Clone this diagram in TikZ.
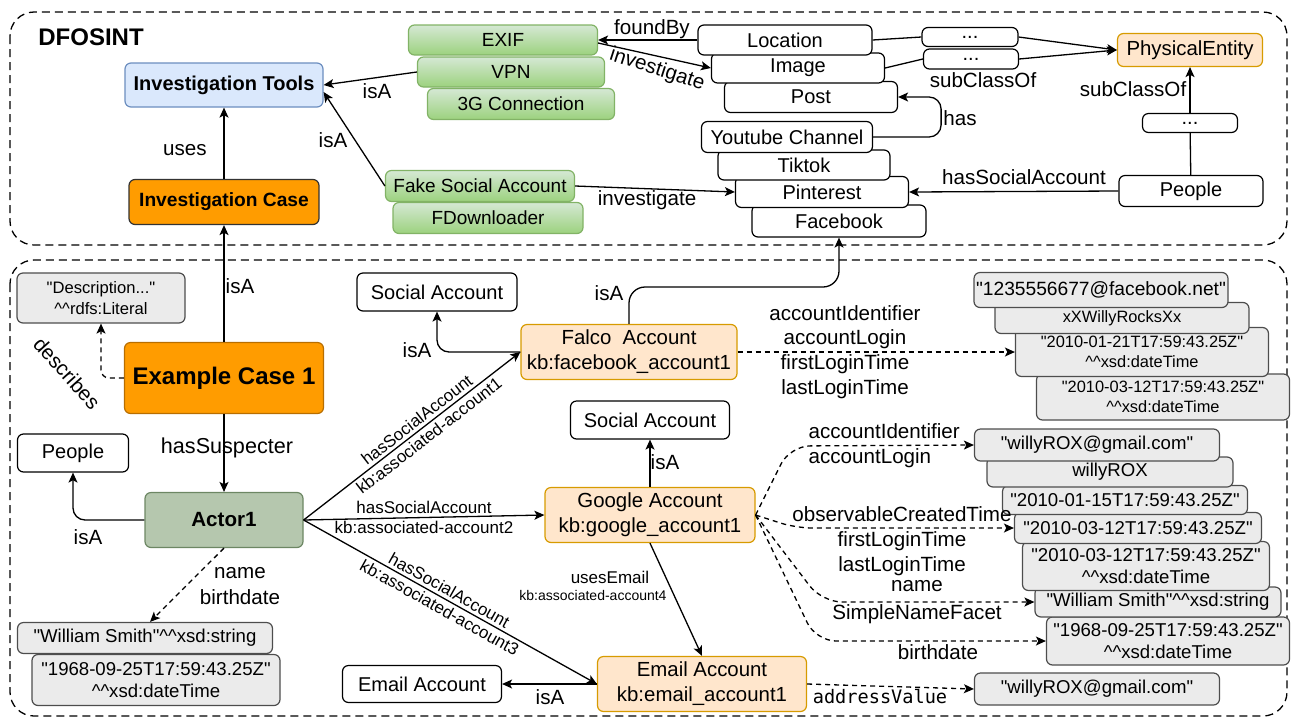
\documentclass[tikz,border=0pt]{standalone}
\usepackage{fontspec}
\setmainfont{Liberation Sans}[Ligatures=TeXOff]
\setmonofont{DejaVu Sans Mono}
\usepackage{tikz}
\usetikzlibrary{arrows.meta}
\definecolor{tooltop}{HTML}{D5E8D4}
\definecolor{toolbot}{HTML}{9CD27E}
\definecolor{toolline}{HTML}{82B366}
\definecolor{bluefill}{HTML}{DAE8FC}
\definecolor{blueline}{HTML}{6C8EBF}
\definecolor{casefill}{HTML}{FF9C00}
\definecolor{caseline}{HTML}{B86E00}
\definecolor{acctfill}{HTML}{FFE6CC}
\definecolor{acctline}{HTML}{D79B00}
\definecolor{litfill}{HTML}{EBEBEB}
\definecolor{litline}{HTML}{4D4D4D}
\definecolor{actorfill}{HTML}{B5C7AE}
\definecolor{actorline}{HTML}{6D8764}
\newcommand{\carets}{\textasciicircum\textasciicircum}
\tikzset{>={Stealth[length=5pt,width=4.5pt,inset=1.2pt]}}
\tikzset{sz/.style 2 args={minimum width=#1*0.5pt,minimum height=#2*0.5pt}}
\tikzset{box/.style={draw,rounded corners=3pt,align=center,inner sep=1pt,line width=0.6pt,font=\fontsize{10}{12}\selectfont}}
\tikzset{plain/.style={box,fill=white}}
\tikzset{tool/.style={box,top color=tooltop,bottom color=toolbot,draw=toolline,font=\fontsize{9.5}{11}\selectfont}}
\tikzset{acct/.style={box,fill=acctfill,draw=acctline,font=\fontsize{10.2}{12.5}\selectfont}}
\tikzset{lit/.style={box,fill=litfill,draw=litline,font=\fontsize{9.3}{10.8}\selectfont}}
\tikzset{litsm/.style={lit,font=\fontsize{8.2}{10.2}\selectfont}}
\tikzset{lbl/.style={inner sep=1pt,align=center,font=\fontsize{10.3}{12.4}\selectfont}}
\tikzset{lblsm/.style={inner sep=1.5pt,font=\fontsize{8.5}{10}\selectfont}}
\tikzset{dashlink/.style={->,dash pattern=on 2.5pt off 2pt}}
\tikzset{region/.style={dash pattern=on 4pt off 2.5pt,rounded corners=12pt}}

\begin{document}
\begin{tikzpicture}[x=0.5pt,y=-0.5pt,line width=0.65pt]
                \useasboundingbox (0,0) rectangle (1291,719);
                \draw[region] (10,12) rectangle (1287,245);
                \draw[region] (10,260) rectangle (1287,716);

                \node[font=\fontsize{12}{14}\selectfont\bfseries] (Dfo) at (91,37) {DFOSINT};
                \node[box,fill=bluefill,draw=blueline,sz={198}{44},font=\fontsize{10}{12}\selectfont\bfseries] (Tools) at (224,85) {Investigation Tools};
                \node[box,fill=casefill,draw=black!80,sz={190}{45},font=\fontsize{9.6}{12}\selectfont\bfseries] (Case) at (224,202) {Investigation Case};

                \node[tool,sz={187}{31}] (Gcon) at (521,104) {3G Connection};
                \node[tool,sz={187}{30}] (Vpn) at (511,72) {VPN};
                \node[tool,sz={189}{30}] (Exif) at (503,40) {EXIF};
                \node[tool,sz={190}{31}] (Fdown) at (488,218) {FDownloader};
                \node[tool,sz={189}{31}] (Fake) at (480,186) {Fake Social Account};

                \node[plain,sz={173}{31}] (Post) at (811,97) {Post};
                \node[plain,sz={173}{30}] (Image) at (798,68) {Image};
                \node[plain,sz={174}{30}] (Location) at (785,40) {Location};
                \node[plain,sz={174}{32}] (Facebook) at (839,221) {Facebook};
                \node[plain,sz={173}{31}] (Pinterest) at (822,192) {Pinterest};
                \node[plain,sz={172}{30}] (Tiktok) at (804,165) {Tiktok};
                \node[plain,sz={171}{31}] (Youtube) at (787,137) {Youtube Channel};

                \node[plain,sz={96}{19}] (DotsA) at (970,37) {...};
                \node[plain,sz={95}{20}] (DotsB) at (971,59) {...};
                \node[plain,sz={95}{19}] (DotsC) at (1190,123) {...};
                \node[acct,sz={145}{33}] (Phys) at (1190,50) {PhysicalEntity};
                \node[plain,sz={144}{31}] (PeopleT) at (1191,191) {People};

                \draw[->] (Case) -- (Tools) node[lbl] at (185,150) {uses};
                \draw[->] (Vpn.west) -- (Tools.east) node[lbl] at (377,91) {isA};
                \draw[->] (Fake.west) -- ([yshift=-3.5pt]Tools.east) node[lbl] at (333,140) {isA};
                \draw[->] (Location.west) -- (Exif.east) node[lbl] at (652,29) {foundBy};
                \draw[->] ([yshift=-1.5pt]Exif.east) -- (Image.west) node[lbl,rotate=-18] at (657,70) {investigate};
                \draw[->] (Fake.east) -- (Pinterest.west) node[lbl] at (647,200) {investigate};
                \draw (Location.east) -- (DotsA.west);
                \draw (Image.east) -- (DotsB.west);
                \draw[->] (DotsA.east) -- (Phys.west);
                \draw[->] (DotsB.east) -- (Phys.west) node[lbl] at (983,80) {subClassOf};
                \draw (PeopleT) -- (DotsC);
                \draw[->] (DotsC) -- (Phys) node[lbl] at (1133,89) {subClassOf};
                \draw[->] (PeopleT.west) -- (Pinterest.east) node[lbl] at (1024,177) {hasSocialAccount};
                \draw[->,rounded corners=6pt] (Youtube.east) -| ([xshift=21.5pt]Post.east) -- (Post.east) node[lbl] at (960,118) {has};

                \node[lit,font=\fontsize{8.3}{10.3}\selectfont,sz={168}{50}] (Desc) at (101,298) {"Description..."\\\carets rdfs:Literal};
                \node[box,fill=casefill,draw=caseline,sz={199}{71},font=\fontsize{12}{14}\selectfont\bfseries] (Example) at (224,378) {Example Case 1};
                \node[plain,sz={111}{38}] (PeopleB) at (73,453) {People};
                \node[box,fill=actorfill,draw=actorline,sz={158}{55},font=\fontsize{10.3}{12}\selectfont\bfseries] (Actor) at (224,520) {Actor1};
                \node[lit,sz={248}{51}] (BirthA) at (156,680) {"1968-09-25T17:59:43.25Z"\\\carets xsd:dateTime};
                \node[lit,sz={255}{31}] (NameA) at (145,638) {"William Smith"\carets xsd:string};

                \draw[->] (Example) -- (Case) node[lbl] at (240,286) {isA};
                \draw[dashlink,rounded corners=4pt] (Example.west) -| (Desc.south) node[lbl,rotate=-48] at (67,373) {describes};
                \draw[->] (Example) -- (Actor) node[lbl,font=\fontsize{10.8}{13}\selectfont] at (227,448) {hasSuspecter};
                \draw[->,rounded corners=6pt] (Actor.west) -| (PeopleB.south) node[lbl] at (88,537) {isA};
                \draw[dashlink] (Actor.south) -- ([xshift=2.5pt]NameA.north) node[lbl,font=\fontsize{10.3}{12.6}\selectfont] at (240,586) {name\\birthdate};

                \node[plain,sz={160}{38}] (SocA) at (437,292) {Social Account};
                \node[acct,sz={216}{55}] (Falco) at (629,352) {Falco\ \ Account\\kb:facebook\_account1};
                \node[litsm,sz={253}{46}] (FLast) at (1163,397) {"2010-03-12T17:59:43.25Z"\\\carets xsd:dateTime};
                \node[litsm,sz={253}{49}] (FFirst) at (1142,352) {"2010-01-21T17:59:43.25Z"\\\carets xsd:dateTime};
                \node[litsm,sz={254}{31}] (FLogin) at (1122,318) {xXWillyRocksXx};
                \node[lit,font=\fontsize{9.6}{11}\selectfont,sz={254}{35}] (FId) at (1101,290) {"1235556677@facebook.net"};
                \coordinate (FbTurn) at (629,287);

                \draw[->,rounded corners=6pt] (Falco.west) -| (SocA.south) node[lbl] at (417,350) {isA};
                \draw[->,rounded corners=8pt] (Falco.north) -- (FbTurn) -| (Facebook.south) node[lbl] at (609,293) {isA};
                \draw[dashlink] (Falco.east) -- (FFirst.west) node[lbl] at (845,352) {accountIdentifier\\accountLogin\\firstLoginTime\\lastLoginTime};

                \node[plain,sz={159}{38}] (SocB) at (650,420) {Social Account};
                \node[acct,sz={210}{55}] (Google) at (650,515) {Google Account\\kb:google\_account1};
                \node[plain,sz={159}{37}] (EmailW) at (422,684) {Email Account};
                \node[acct,sz={209}{55}] (EmailO) at (702,684) {Email Account\\kb:email\_account1};

                \draw[->] (Actor.east) -- (Falco.west) node[lblsm,pos=0.55,sloped,above] {hasSocialAccount} node[lblsm,pos=0.55,sloped,below] {kb:associated-account1};
                \draw[->] (Actor.east) -- (Google.west) node[lblsm,midway,above] {hasSocialAccount} node[lblsm,midway,below] {kb:associated-account2};
                \draw[->] (Actor.east) -- (EmailO.west) node[lblsm,pos=0.48,sloped,above] {hasSocialAccount} node[lblsm,pos=0.48,sloped,below] {kb:associated-account3};
                \draw[->] (Google) -- (SocB) node[lbl] at (665,462) {isA};
                \draw[->] (Google.south) -- (EmailO.north) node[lblsm] at (610,577) {usesEmail} node[inner sep=1pt,font=\fontsize{7}{8}\selectfont] at (593,595) {kb:associated-account4};
                \draw[->] (EmailO) -- (EmailW) node[lbl] at (550,697) {isA};

                \node[lit,sz={243}{48}] (GBirth) at (1168,641) {"1968-09-25T17:59:43.25Z"\\\carets xsd:dateTime};
                \node[lit,sz={246}{30}] (GName) at (1158,602) {"William Smith"\carets xsd:string};
                \node[lit,sz={247}{49}] (GLast) at (1146,566) {"2010-03-12T17:59:43.25Z"\\\carets xsd:dateTime};
                \node[lit,sz={247}{31}] (GFirst) at (1138,528) {"2010-03-12T17:59:43.25Z"};
                \node[lit,sz={245}{29}] (GCreated) at (1125,500) {"2010-01-15T17:59:43.25Z"};
                \node[lit,sz={246}{30}] (GLogin) at (1110,472) {willyROX};
                \node[lit,sz={245}{32}] (GId) at (1097,445) {"willyROX@gmail.com"};
                \node[lit,sz={245}{32}] (EAddr) at (1097,689) {"willyROX@gmail.com"};

                \draw[dashlink,rounded corners=10pt] (Google.east) -- (790,446) -- (GId.west) node[lbl,align=left,anchor=west] at (806,446) {accountIdentifier\\accountLogin};
                \draw[dashlink,rounded corners=8pt] (Google.east) -- (796,528) -- (GFirst.west) node[lbl] at (902,541) {observableCreatedTime\\firstLoginTime\\lastLoginTime};
                \draw[dashlink,rounded corners=10pt] (Google.east) -- (822,602) -- (GName.west) node[lbl,font=\fontsize{10.3}{13.6}\selectfont] at (917,602) {name\\SimpleNameFacet};
                \draw[dashlink,rounded corners=10pt] (Google.east) -- (816,641) -- (GBirth.west) node[lbl] at (938,652) {birthdate};
                \draw[dashlink] (EmailO.east) -- (EAddr.west) node[lbl,font=\fontsize{9.3}{11}\selectfont\ttfamily] at (880,697) {addressValue};
            \end{tikzpicture}
\end{document}
